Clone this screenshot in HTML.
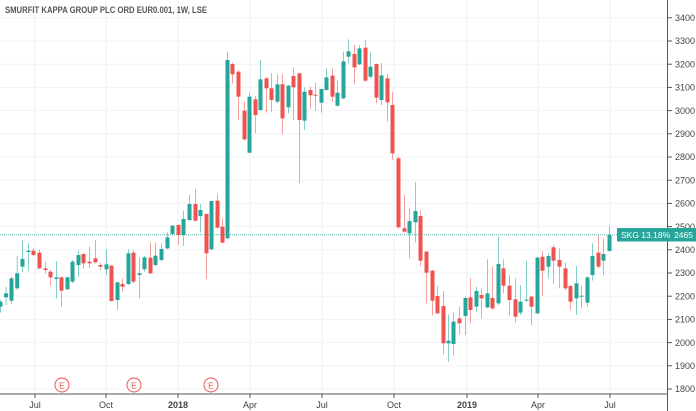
<!DOCTYPE html>
<html><head><meta charset="utf-8"><style>
html,body{margin:0;padding:0;background:#fff;}
svg{display:block;font-family:"Liberation Sans",sans-serif;}
</style></head><body>
<svg id="s" width="696" height="411" xmlns="http://www.w3.org/2000/svg"></svg>
<script>
const s=document.getElementById('s');let h='';
const Y=v=>41+(3300-v)*0.232;
// grid
for(let v=1800;v<=3400;v+=100){const y=Y(v);h+=`<line x1="0" y1="${y}" x2="667" y2="${y}" stroke="#f0f3f8" stroke-width="1"/>`;
h+=`<line x1="668" y1="${y}" x2="672" y2="${y}" stroke="#555" stroke-width="1"/><text x="675" y="${y+3.2}" font-size="9" fill="#444">${v}</text>`;}
const mx=[[35,'Jul'],[106,'Oct'],[178,'2018'],[250,'Apr'],[322,'Jul'],[394,'Oct'],[467,'2019'],[538,'Apr'],[610,'Jul']];
for(const [x,t] of mx){h+=`<line x1="${x}" y1="0" x2="${x}" y2="394" stroke="#eef2f7" stroke-width="1"/><line x1="${x}" y1="394" x2="${x}" y2="398" stroke="#555"/><text x="${x}" y="408" font-size="9" fill="#444" text-anchor="middle" ${t.length==4?'font-weight="bold"':''}>${t}</text>`;}
h+=`<line x1="0" y1="394" x2="668" y2="394" stroke="#555" stroke-width="1"/><line x1="667.5" y1="0" x2="667.5" y2="411" stroke="#555" stroke-width="1"/>`;
h+=`<line x1="0" y1="234.7" x2="667" y2="234.7" stroke="#26a69a" stroke-width="1" stroke-dasharray="1,1" opacity="0.8"/>`;
const A=[[0,365,380,360,398,1],[5.6,340,352,320,375,1],[11,295,362,290,372,1],[16.7,280,325,228,330,1],[22,237,260,180,275,1],[28,212,216,190,275,1],[33,212,225,205,228,0],[39,218,265,208,268,0],[45,265,270,245,280,0],[50,275,292,270,318,0],[56,292,297,243,355,1],[61,292,332,288,380,0],[67,292,328,290,330,1],[72,245,305,240,310,1],[78,225,255,212,292,1],[83,222,250,218,265,0],[89,245,250,200,265,0],[95,235,247,180,250,0],[100,255,260,248,270,0],[106,253,268,208,285,1],[111,257,363,255,365,0],[117,307,360,305,390,1],[122,312,320,295,335,0],[128,220,312,208,315,1],[133,218,305,210,310,0],[139,280,285,232,355,1],[144,232,268,228,275,1],[150,233,280,187,282,0],[155,227,255,187,260,1],[161,207,240,190,245,1],[167,172,205,157,208,1],[172,137,162,135,165,1],[178,135,165,133,195,0],[183,117,165,92,198,1],[189,72,120,45,123,1],[195,72,122,27,125,0],[200,90,108,72,158,1],[206,102,220,100,297,0],[211,63,208,62,210,1],[217,62,143,42,145,0],[222,140,188,115,190,0]];
const B=[[227,90,625,65,628,1],[232,102,133,98,160,0],[238,125,200,122,270,0],[244,242,328,215,332,0],[249,200,368,188,370,1],[255,208,255,198,310,0],[260,148,240,90,242,1],[266,145,175,142,248,0],[271,175,210,130,245,0],[277,163,215,133,220,1],[282,163,265,132,313,0],[288,167,232,165,250,1],[293,138,172,112,270,0],[299,130,270,128,460,0],[304,185,272,172,300,1],[310,180,196,170,237,0],[315,194,197,158,242,0],[321,177,218,175,248,1],[326,142,180,115,182,1],[332,137,200,115,215,0],[337,188,227,152,230,1],[343,94,205,65,208,1],[348,64,80,28,100,1],[354,72,112,45,162,0],[359,55,103,45,106,1],[365,53,152,30,155,0],[370,110,140,68,145,1],[376,102,203,100,220,0],[381,136,210,100,225,1],[387,145,217,132,275,0],[392,225,370,185,390,0]];
const C=[[398,55,262,50,265,0],[404,265,275,165,278,0],[409,243,280,205,355,1],[415,213,247,127,307,1],[420,228,362,212,378,0],[426,335,398,333,493,0],[432,392,482,390,527,0],[437,468,520,438,522,0],[443,498,610,453,643,0],[448,602,610,523,665,1],[453,545,612,518,647,1],[459,535,550,500,583,0],[465,474,528,470,585,1],[470,472,510,415,550,0],[476,453,500,440,515,1],[481,465,475,445,535,0],[487,460,502,358,505,1],[492,474,505,378,510,0],[498,372,490,290,495,1],[503,385,437,358,460,0],[509,437,480,405,527,0],[515,478,530,415,548,0],[520,485,518,435,525,1],[526,479,482,362,485,1],[531,470,500,468,555,0],[537,353,520,350,522,1],[542,350,392,333,467,0],[548,348,380,340,415,1],[553,322,362,315,432,0],[559,360,380,325,445,0],[565,385,445,368,450,0],[570,438,485,435,510,0],[576,430,475,378,525,1],[581,467,470,437,505,1],[587,412,488,410,500,1],[592,348,405,310,422,1],[598,338,380,285,385,0],[603,342,362,297,405,1],[609,285,333,258,335,1]];
function draw(arr,y0){for(const [x,t,b,wt,wb,g] of arr){const c=g?'#26a69a':'#ef5350';const ty=y0+t/3,by=y0+b/3,wy1=y0+wt/3,wy2=y0+wb/3;
h+=`<line x1="${x+0.5}" y1="${wy1}" x2="${x+0.5}" y2="${wy2}" stroke="${c}" stroke-opacity="0.55" stroke-width="1"/>`;
h+=`<rect x="${x-1.5}" y="${ty}" width="4" height="${Math.max(1,by-ty)}" fill="${c}"/>`;}}
draw(A,180);draw(B,30);draw(C,140);
for(const x of [62,134,211]){h+=`<circle cx="${x}" cy="385" r="7" fill="#fff" stroke="#ef5350" stroke-width="1"/><text x="${x}" y="388.3" font-size="8.5" fill="#ef5350" text-anchor="middle">E</text>`;}
h+=`<rect x="617" y="228" width="79" height="13.5" fill="#26a69a"/><text x="621" y="238" font-size="8.5" fill="#fff">SKG 13.18%</text><text x="693" y="238" font-size="8.5" fill="#fff" text-anchor="end">2465</text>`;
h+=`<text x="5" y="13" font-size="9" font-weight="bold" fill="#555" textLength="202" lengthAdjust="spacingAndGlyphs">SMURFIT KAPPA GROUP PLC ORD EUR0.001, 1W, LSE</text>`;
s.innerHTML=h;
</script>
</body></html>
